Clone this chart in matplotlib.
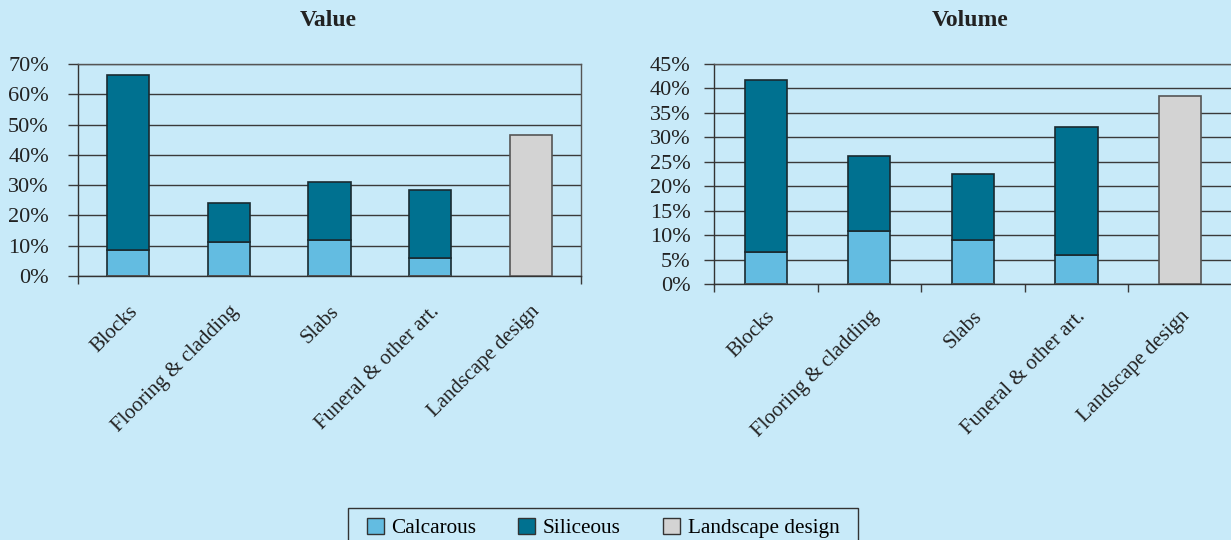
import matplotlib
matplotlib.use("Agg")
from matplotlib import pyplot as plt
from matplotlib.patches import Patch, Rectangle
import numpy as np

categories = ["Blocks", "Flooring & cladding", "Slabs", "Funeral & other art.", "Landscape design"]

# Value chart (%)
value_calcarous = [8.7, 11.3, 12.0, 6.0, 0]
value_siliceous = [57.8, 12.9, 19.1, 22.5, 0]
value_landscape = [0, 0, 0, 0, 46.6]

# Volume chart (%)
volume_calcarous = [6.5, 10.8, 9.1, 5.9, 0]
volume_siliceous = [35.2, 15.4, 13.4, 26.2, 0]
volume_landscape = [0, 0, 0, 0, 38.5]

value_ticks = [0, 10, 20, 30, 40, 50, 60, 70]
volume_ticks = [0, 5, 10, 15, 20, 25, 30, 35, 40, 45]

BG = "#c8eaf9"
C_CALC = "#63bce1"
C_SIL = "#007190"
C_LAND = "#d3d3d3"
EDGE = "#1a2a30"
FONT = ["Liberation Serif", "DejaVu Serif"]

plt.rcParams["font.family"] = FONT

fig = plt.figure(figsize=(12.31, 5.4), dpi=100, facecolor=BG)


def draw_panel(ax, calc, sil, land, ticks, ymax, width, boundary_ticks, pad, dx, dy):
    x = np.arange(len(categories))
    ax.set_facecolor(BG)
    ax.bar(x, calc, width, color=C_CALC, edgecolor=EDGE, linewidth=1.2, zorder=3)
    ax.bar(x, sil, width, bottom=calc, color=C_SIL, edgecolor=EDGE, linewidth=1.2, zorder=3)
    ax.bar(x, land, width, color=C_LAND, edgecolor="#555555", linewidth=1.2, zorder=3)
    ax.set_xlim(-0.5, len(categories) - 0.5)
    ax.set_ylim(0, ymax)
    ax.set_yticks(ticks)
    ax.set_yticklabels([f"{t}%" for t in ticks], fontsize=16, color="#222222", family=FONT)
    ax.yaxis.grid(True, color="#3a3a3a", linewidth=1.0, zorder=1)
    ax.tick_params(axis="y", length=7, width=1.0, color="#3a3a3a", pad=pad)
    # category boundary ticks like a spreadsheet axis
    if boundary_ticks:
        ax.set_xticks(np.arange(-0.5, len(categories), 1.0))
    else:
        ax.set_xticks([-0.5, len(categories) - 0.5])
    ax.set_xticklabels([])
    ax.tick_params(axis="x", length=6, width=1.0, color="#3a3a3a", direction="out")
    for i, name in enumerate(categories):
        ax.text(i + dx, -ymax * dy, name, rotation=45, ha="right", va="top",
                rotation_mode="anchor", fontsize=15, color="#222222", family=FONT,
                transform=ax.transData, clip_on=False)
    for s in ax.spines.values():
        s.set_color("#555555")
        s.set_linewidth(1.0)
    ax.spines["left"].set_color("#333333")
    ax.spines["bottom"].set_color("#333333")
    ax.set_axisbelow(True)


ax1 = fig.add_axes([0.0634, 0.4889, 0.4086, 0.3926])
draw_panel(ax1, value_calcarous, value_siliceous, value_landscape,
           value_ticks, 70, 0.42, False, 14, 0.0, 0.123)
ax2 = fig.add_axes([0.580, 0.474, 0.4205, 0.4074])
draw_panel(ax2, volume_calcarous, volume_siliceous, volume_landscape,
           volume_ticks, 45, 0.41, True, 10, 0.0, 0.105)

fig.text(328 / 1231, 1 - 21 / 540, "Value", ha="center", va="center",
         fontsize=17, fontweight="bold", color="#222222", family=FONT)
fig.text(970 / 1231, 1 - 21 / 540, "Volume", ha="center", va="center",
         fontsize=17, fontweight="bold", color="#222222", family=FONT)

# legend frame drawn by hand so it runs off the bottom edge like the original
fig.patches.append(Rectangle((348 / 1231, -0.05), 510 / 1231, 0.05 + 32 / 540,
                             transform=fig.transFigure, facecolor=BG, edgecolor="#333333",
                             linewidth=1.0, zorder=1))

handles = [
    Patch(facecolor=C_CALC, edgecolor="#333333", label="Calcarous"),
    Patch(facecolor=C_SIL, edgecolor="#333333", label="Siliceous"),
    Patch(facecolor=C_LAND, edgecolor="#333333", label="Landscape design"),
]
leg = fig.legend(handles=handles, loc="center", bbox_to_anchor=(603 / 1231, 1 - 528 / 540),
                 ncol=3, frameon=False, columnspacing=2.0,
                 handlelength=0.8, handleheight=0.8, handletextpad=0.35, borderpad=0,
                 borderaxespad=0, prop={"family": FONT, "size": 15.3})

fig.savefig("out.png", dpi=100, facecolor=BG)
